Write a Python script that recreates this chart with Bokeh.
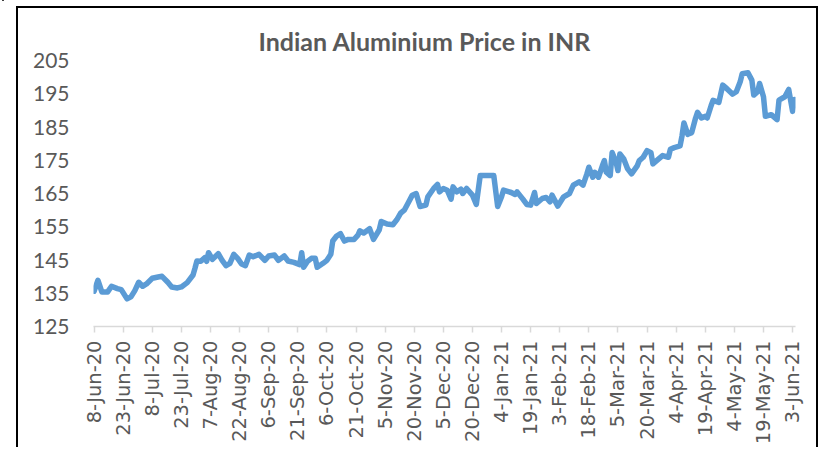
import math
import pandas as pd
from bokeh.plotting import figure
from bokeh.models import Range1d, FixedTicker, ColumnDataSource, InlineStyleSheet
from bokeh.embed import file_html
from bokeh.resources import INLINE

dates = [
    "2020-06-08", "2020-06-10", "2020-06-12", "2020-06-15", "2020-06-17", "2020-06-20",
    "2020-06-22", "2020-06-25", "2020-06-27", "2020-06-29", "2020-07-01", "2020-07-03",
    "2020-07-05", "2020-07-08", "2020-07-11", "2020-07-13", "2020-07-16", "2020-07-18",
    "2020-07-21", "2020-07-23", "2020-07-26", "2020-07-29", "2020-07-30", "2020-07-31",
    "2020-08-02", "2020-08-04", "2020-08-05", "2020-08-06", "2020-08-08", "2020-08-11",
    "2020-08-13", "2020-08-15", "2020-08-17", "2020-08-19", "2020-08-21", "2020-08-23",
    "2020-08-25", "2020-08-27", "2020-08-29", "2020-09-01", "2020-09-04", "2020-09-06",
    "2020-09-09", "2020-09-11", "2020-09-14", "2020-09-16", "2020-09-19", "2020-09-22",
    "2020-09-23", "2020-09-24", "2020-09-26", "2020-09-28", "2020-09-30", "2020-10-01",
    "2020-10-04", "2020-10-06", "2020-10-08", "2020-10-09", "2020-10-11", "2020-10-13",
    "2020-10-15", "2020-10-17", "2020-10-20", "2020-10-22", "2020-10-23", "2020-10-25",
    "2020-10-28", "2020-10-30", "2020-11-02", "2020-11-03", "2020-11-06", "2020-11-09",
    "2020-11-11", "2020-11-13", "2020-11-15", "2020-11-17", "2020-11-19", "2020-11-21",
    "2020-11-23", "2020-11-26", "2020-11-27", "2020-11-30", "2020-12-02", "2020-12-03",
    "2020-12-05", "2020-12-07", "2020-12-09", "2020-12-10", "2020-12-12", "2020-12-14",
    "2020-12-15", "2020-12-17", "2020-12-20", "2020-12-22", "2020-12-24", "2020-12-31",
    "2021-01-02", "2021-01-04", "2021-01-05", "2021-01-09", "2021-01-11", "2021-01-12",
    "2021-01-15", "2021-01-17", "2021-01-19", "2021-01-21", "2021-01-22", "2021-01-25",
    "2021-01-27", "2021-01-29", "2021-01-30", "2021-02-02", "2021-02-05", "2021-02-08",
    "2021-02-10", "2021-02-13", "2021-02-15", "2021-02-17", "2021-02-18", "2021-02-20",
    "2021-02-21", "2021-02-23", "2021-02-25", "2021-02-26", "2021-02-27", "2021-03-01",
    "2021-03-02", "2021-03-04", "2021-03-05", "2021-03-06", "2021-03-08", "2021-03-10",
    "2021-03-12", "2021-03-15", "2021-03-16", "2021-03-18", "2021-03-20", "2021-03-22",
    "2021-03-23", "2021-03-26", "2021-03-28", "2021-03-31", "2021-04-01", "2021-04-03",
    "2021-04-06", "2021-04-07", "2021-04-08", "2021-04-10", "2021-04-12", "2021-04-14",
    "2021-04-15", "2021-04-17", "2021-04-19", "2021-04-20", "2021-04-22", "2021-04-23",
    "2021-04-26", "2021-04-28", "2021-04-30", "2021-05-03", "2021-05-05", "2021-05-07",
    "2021-05-08", "2021-05-11", "2021-05-13", "2021-05-14", "2021-05-16", "2021-05-17",
    "2021-05-19", "2021-05-20", "2021-05-23", "2021-05-26", "2021-05-27", "2021-05-30",
    "2021-06-01", "2021-06-03", "2021-06-04",
]

prices = [
    135.6, 138.9, 135.4, 135.4, 137.1, 136.4,
    136.1, 133.3, 133.9, 135.8, 138.3, 137.1,
    137.8, 139.5, 139.9, 140.1, 138.3, 136.9,
    136.6, 136.9, 138.2, 140.5, 142.5, 144.7,
    144.6, 145.7, 144.6, 147.2, 145.2, 146.9,
    144.9, 143.3, 144.0, 146.7, 145.5, 143.8,
    143.3, 146.5, 146.0, 146.7, 144.9, 146.2,
    146.5, 144.9, 146.2, 144.7, 144.3, 143.6,
    147.2, 142.8, 144.6, 145.5, 145.5, 142.8,
    144.0, 144.9, 146.7, 150.7, 152.2, 152.9,
    150.7, 151.2, 151.2, 152.5, 153.8, 153.1,
    154.4, 151.2, 154.1, 156.6, 155.8, 155.6,
    157.1, 159.1, 160.1, 162.3, 164.5, 165.0,
    161.1, 161.5, 164.0, 166.5, 167.7, 165.5,
    166.5, 166.0, 163.3, 167.0, 165.5, 166.3,
    165.0, 166.5, 164.5, 161.7, 170.4, 170.4,
    161.1, 164.0, 166.0, 165.3, 164.7, 165.5,
    163.3, 161.7, 161.5, 165.3, 162.0, 163.5,
    163.8, 162.5, 164.5, 161.2, 164.0, 165.0,
    167.5, 168.5, 167.5, 170.9, 172.9, 169.9,
    171.4, 169.9, 173.4, 174.9, 171.4, 170.4,
    177.3, 174.4, 171.9, 176.9, 175.4, 172.4,
    170.9, 173.4, 174.9, 175.9, 177.9, 177.3,
    173.9, 175.4, 176.4, 175.9, 178.3, 178.8,
    179.3, 182.3, 186.2, 182.8, 183.3, 187.7,
    189.4, 187.7, 188.2, 187.7, 191.4, 193.0,
    192.4, 197.6, 196.6, 194.9, 195.6, 198.6,
    201.0, 201.3, 199.1, 194.6, 195.6, 198.1,
    194.1, 188.2, 188.7, 187.2, 193.1, 194.1,
    196.3, 189.7, 193.3,
]

tick_labels = [
    "8-Jun-20", "23-Jun-20", "8-Jul-20", "23-Jul-20", "7-Aug-20", "22-Aug-20",
    "6-Sep-20", "21-Sep-20", "6-Oct-20", "21-Oct-20", "5-Nov-20", "20-Nov-20",
    "5-Dec-20", "20-Dec-20", "4-Jan-21", "19-Jan-21", "3-Feb-21", "18-Feb-21",
    "5-Mar-21", "20-Mar-21", "4-Apr-21", "19-Apr-21", "4-May-21", "19-May-21",
    "3-Jun-21",
]
y_ticks = [125, 135, 145, 155, 165, 175, 185, 195, 205]

start = pd.Timestamp("2020-06-08")
days = [(pd.Timestamp(d) - start).days for d in dates]
tick_days = [(pd.to_datetime(t, format="%d-%b-%y") - start).days for t in tick_labels]

source = ColumnDataSource(data=dict(x=days, y=prices))

frame_css = InlineStyleSheet(css="""
:host { position: relative; }
:host::after {
  content: ""; position: absolute; left: 16px; top: 6px; width: 802px; height: 441px;
  box-sizing: border-box; border: 2px solid #000; border-bottom: none;
  pointer-events: none;
}
:host::before {
  content: ""; position: absolute; left: 2px; top: 0px; width: 2px; height: 447px;
  background: #000; pointer-events: none;
}
""")

p = figure(
    width=818, height=447,
    x_range=Range1d(-0.3, 361.5), y_range=Range1d(125, 205),
    output_backend="svg", toolbar_location=None,
    min_border_left=93, min_border_right=23, min_border_top=60, min_border_bottom=117,
)
p.stylesheets = [frame_css]

p.title.text = "Indian Aluminium Price in INR"
p.title.align = "left"
p.title.offset = 165
p.title.text_font = "Lato"
p.title.text_font_style = "bold"
p.title.text_font_size = "25px"
p.title.text_color = "#595959"

p.outline_line_color = None
p.xgrid.grid_line_color = None
p.ygrid.grid_line_color = None

p.line("x", "y", source=source, line_color="#5B9BD5", line_width=5.5,
       line_join="round", line_cap="round")

yax = p.yaxis[0]
yax.ticker = FixedTicker(ticks=y_ticks)
yax.axis_line_color = None
yax.major_tick_line_color = None
yax.minor_tick_line_color = None
yax.major_label_standoff = 18
yax.major_label_text_font = "Lato"
yax.major_label_text_font_size = "21px"
yax.major_label_text_color = "#595959"

xax = p.xaxis[0]
xax.ticker = FixedTicker(ticks=tick_days)
xax.major_label_overrides = {d: lab for d, lab in zip(tick_days, tick_labels)}
xax.axis_line_color = "#D9D9D9"
xax.axis_line_width = 1.5
xax.major_tick_line_color = "#D9D9D9"
xax.major_tick_line_width = 1.5
xax.major_tick_in = 0
xax.major_tick_out = 6
xax.minor_tick_line_color = None
xax.major_label_orientation = math.pi / 2
xax.major_label_standoff = 8
xax.major_label_text_font = "DejaVu Sans"
xax.major_label_text_font_size = "19.5px"
xax.major_label_text_color = "#595959"

open("out.html", "w").write(file_html(p, INLINE))
